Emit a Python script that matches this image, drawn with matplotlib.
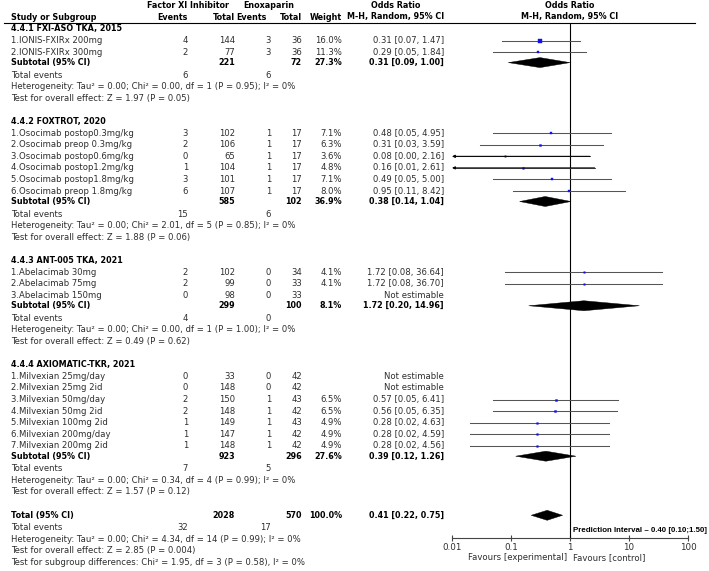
import matplotlib
matplotlib.use("Agg")
import matplotlib.pyplot as plt
from matplotlib.patches import Polygon
from matplotlib.ticker import NullLocator
from matplotlib import font_manager

# ---------------- data ----------------
group_titles = ["4.4.1 FXI-ASO TKA, 2015", "4.4.2 FOXTROT, 2020",
                "4.4.3 ANT-005 TKA, 2021", "4.4.4 AXIOMATIC-TKR, 2021"]
group_sizes = [2, 6, 3, 7]

study_names = ["1.IONIS-FXIRx 200mg", "2.IONIS-FXIRx 300mg",
               "1.Osocimab postop0.3mg/kg", "2.Osocimab preop 0.3mg/kg",
               "3.Osocimab postop0.6mg/kg", "4.Osocimab postop1.2mg/kg",
               "5.Osocimab postop1.8mg/kg", "6.Osocimab preop 1.8mg/kg",
               "1.Abelacimab 30mg", "2.Abelacimab 75mg", "3.Abelacimab 150mg",
               "1.Milvexian 25mg/day", "2.Milvexian 25mg 2id", "3.Milvexian 50mg/day",
               "4.Milvexian 50mg 2id", "5.Milvexian 100mg 2id", "6.Milvexian 200mg/day",
               "7.Milvexian 200mg 2id"]
exp_events = [4, 2, 3, 2, 0, 1, 3, 6, 2, 2, 0, 0, 0, 2, 2, 1, 1, 1]
exp_total = [144, 77, 102, 106, 65, 104, 101, 107, 102, 99, 98, 33, 148, 150, 148, 149, 147, 148]
ctl_events = [3, 3, 1, 1, 1, 1, 1, 1, 0, 0, 0, 0, 0, 1, 1, 1, 1, 1]
ctl_total = [36, 36, 17, 17, 17, 17, 17, 17, 34, 33, 33, 42, 42, 43, 42, 43, 42, 42]
weights = [16.0, 11.3, 7.1, 6.3, 3.6, 4.8, 7.1, 8.0, 4.1, 4.1, None, None, None, 6.5, 6.5, 4.9, 4.9, 4.9]
or_est = [0.31, 0.29, 0.48, 0.31, 0.08, 0.16, 0.49, 0.95, 1.72, 1.72, None, None, None, 0.57, 0.56, 0.28, 0.28, 0.28]
or_lo = [0.07, 0.05, 0.05, 0.03, 0.00, 0.01, 0.05, 0.11, 0.08, 0.08, None, None, None, 0.05, 0.05, 0.02, 0.02, 0.02]
or_hi = [1.47, 1.84, 4.95, 3.59, 2.16, 2.61, 5.00, 8.42, 36.64, 36.70, None, None, None, 6.41, 6.35, 4.63, 4.59, 4.56]

sub_exp_total = [221, 585, 299, 923]
sub_ctl_total = [72, 102, 100, 296]
sub_weight = [27.3, 36.9, 8.1, 27.6]
sub_or = [0.31, 0.38, 1.72, 0.39]
sub_lo = [0.09, 0.14, 0.20, 0.12]
sub_hi = [1.00, 1.04, 14.96, 1.26]
sub_exp_events = [6, 15, 4, 7]
sub_ctl_events = [6, 6, 0, 5]
het_tau2 = ["0.00", "0.00", "0.00", "0.00"]
het_chi2 = ["0.00", "2.01", "0.00", "0.34"]
het_df = [1, 5, 1, 4]
het_p = ["0.95", "0.85", "1.00", "0.99"]
het_i2 = [0, 0, 0, 0]
z_val = ["1.97", "1.88", "0.49", "1.57"]
z_p = ["0.05", "0.06", "0.62", "0.12"]

tot_exp_total, tot_ctl_total, tot_weight = 2028, 570, 100.0
tot_or, tot_lo, tot_hi = 0.41, 0.22, 0.75
tot_exp_events, tot_ctl_events = 32, 17
tot_het = ("0.00", "4.34", 14, "0.99", 0)
tot_z = ("2.85", "0.004")
subgroup_diff = ("1.95", 3, "0.58", 0)
pred_interval = ("0.40", "0.10", "1.50")

xticks = [0.01, 0.1, 1, 10, 100]
xtick_labels = ["0.01", "0.1", "1", "10", "100"]

# ---------------- layout ----------------
W, H = 709, 571
fig = plt.figure(figsize=(W / 100, H / 100), dpi=100)
ax = fig.add_axes([0, 0, 1, 1])
ax.set_xlim(0, W)
ax.set_ylim(H, 0)
ax.axis("off")

names = {f.name for f in font_manager.fontManager.ttflist}
FAM = "DejaVu Sans"
NARROW = "Liberation Sans Narrow" if "Liberation Sans Narrow" in names else "Liberation Sans"
FS = 6.1
FSB = 5.8
TC = "#2e2e2e"

X0, X1 = 452, 688
YTOP, YAX = 23, 538
fax = fig.add_axes([X0 / W, 1 - YAX / H, (X1 - X0) / W, (YAX - YTOP) / H])
fax.set_xscale("log")
fax.set_xlim(0.01, 100)
fax.set_ylim(YAX, YTOP)
fax.patch.set_alpha(0)
for s in ["top", "right", "left"]:
    fax.spines[s].set_visible(False)
fax.spines["bottom"].set_linewidth(0.8)
fax.spines["bottom"].set_color("#444444")
fax.set_xticks(xticks)
fax.set_xticklabels(xtick_labels, fontsize=FS + 0.2, color=TC, family=FAM)
fax.xaxis.set_minor_locator(NullLocator())
fax.set_yticks([])
fax.tick_params(axis="x", direction="inout", length=5, width=0.8, color="#444444", pad=1.2)
fax.axvline(1, color="black", lw=0.8)


def t(x, y, s, ha="left", bold=False, color=None, size=None):
    if size is None:
        size = FSB if bold else FS
    ax.text(x, y, s, ha=ha, va="center", fontsize=size, family=FAM,
            fontweight="bold" if bold else "normal",
            color=color if color else ("black" if bold else TC))


C_LBL, C_EE, C_ET, C_CE, C_CT, C_W, C_CI = 11, 188, 235, 271, 302, 342, 444

# headers
t(188, 6, "Factor XI Inhibitor", ha="center", bold=True)
t(269, 6, "Enoxaparin", ha="center", bold=True)
t(396, 6, "Odds Ratio", ha="center", bold=True)
t(570, 6, "Odds Ratio", ha="center", bold=True)
t(C_LBL, 17, "Study or Subgroup", bold=True)
t(C_EE, 17, "Events", ha="right", bold=True)
t(C_ET, 17, "Total", ha="right", bold=True)
t(267, 17, "Events", ha="right", bold=True)
t(C_CT, 17, "Total", ha="right", bold=True)
t(C_W, 17, "Weight", ha="right", bold=True)
t(396, 17, "M-H, Random, 95% CI", ha="center", bold=True)
t(570, 17, "M-H, Random, 95% CI", ha="center", bold=True)
ax.plot([4, 695], [YTOP, YTOP], color="black", lw=0.8)

CI_COLOR = "#555555"


def diamond(y, est, lo, hi):
    fax.add_patch(Polygon([(lo, y), (est, y - 5), (hi, y), (est, y + 5)],
                          closed=True, facecolor="black", edgecolor="black", lw=0.3))


dy = 11.55
y = 29.0
k = 0
for g in range(len(group_titles)):
    t(C_LBL, y, group_titles[g], bold=True)
    for _ in range(group_sizes[g]):
        y += dy
        t(C_LBL, y, study_names[k])
        t(C_EE, y, str(exp_events[k]), ha="right")
        t(C_ET, y, str(exp_total[k]), ha="right")
        t(C_CE, y, str(ctl_events[k]), ha="right")
        t(C_CT, y, str(ctl_total[k]), ha="right")
        if weights[k] is None:
            t(C_CI, y, "Not estimable", ha="right")
        else:
            t(C_W, y, f"{weights[k]:.1f}%", ha="right")
            t(C_CI, y, f"{or_est[k]:.2f} [{or_lo[k]:.2f}, {or_hi[k]:.2f}]", ha="right")
            lo = max(or_lo[k], 0.01)
            if or_lo[k] <= 0.01:
                fax.annotate("", xy=(0.01, y), xytext=(or_hi[k], y),
                             arrowprops=dict(arrowstyle="-|>", color="black", lw=0.75,
                                             mutation_scale=4.0, shrinkA=0, shrinkB=0),
                             annotation_clip=False)
                fax.plot([0.0115, or_hi[k]], [y, y], color=CI_COLOR, lw=0.75)
            else:
                fax.plot([lo, or_hi[k]], [y, y], color=CI_COLOR, lw=0.75)
            fax.plot([or_est[k]], [y], marker="s", color="#1010ee", mec="#1010ee",
                     markersize=0.55 * weights[k] ** 0.5, mew=0.3)
        k += 1
    y += 10.5
    t(C_LBL, y, "Subtotal (95% CI)", bold=True)
    t(C_ET, y, str(sub_exp_total[g]), ha="right", bold=True)
    t(C_CT, y, str(sub_ctl_total[g]), ha="right", bold=True)
    t(C_W, y, f"{sub_weight[g]:.1f}%", ha="right", bold=True)
    t(C_CI, y, f"{sub_or[g]:.2f} [{sub_lo[g]:.2f}, {sub_hi[g]:.2f}]", ha="right", bold=True)
    diamond(y, sub_or[g], sub_lo[g], sub_hi[g])
    y += 12.5
    t(C_LBL, y, "Total events")
    t(C_EE, y, str(sub_exp_events[g]), ha="right")
    t(C_CE, y, str(sub_ctl_events[g]), ha="right")
    y += dy
    t(C_LBL, y, f"Heterogeneity: Tau² = {het_tau2[g]}; Chi² = {het_chi2[g]}, df = {het_df[g]} "
                f"(P = {het_p[g]}); I² = {het_i2[g]}%")
    y += dy
    t(C_LBL, y, f"Test for overall effect: Z = {z_val[g]} (P = {z_p[g]})")
    y += 23.5

# overall
t(C_LBL, y, "Total (95% CI)", bold=True)
t(C_ET, y, str(tot_exp_total), ha="right", bold=True)
t(C_CT, y, str(tot_ctl_total), ha="right", bold=True)
t(C_W, y, f"{tot_weight:.1f}%", ha="right", bold=True)
t(C_CI, y, f"{tot_or:.2f} [{tot_lo:.2f}, {tot_hi:.2f}]", ha="right", bold=True)
diamond(y, tot_or, tot_lo, tot_hi)
y += 12.5
t(C_LBL, y, "Total events")
t(C_EE, y, str(tot_exp_events), ha="right")
t(C_CE, y, str(tot_ctl_events), ha="right")
y += dy
t(C_LBL, y, f"Heterogeneity: Tau² = {tot_het[0]}; Chi² = {tot_het[1]}, df = {tot_het[2]} "
            f"(P = {tot_het[3]}); I² = {tot_het[4]}%")
y += dy
t(C_LBL, y, f"Test for overall effect: Z = {tot_z[0]} (P = {tot_z[1]})")
y += dy
t(C_LBL, y, f"Test for subgroup differences: Chi² = {subgroup_diff[0]}, df = {subgroup_diff[1]} "
            f"(P = {subgroup_diff[2]}), I² = {subgroup_diff[3]}%")

# prediction interval
ax.text(707, 530, f"Prediction Interval – {pred_interval[0]} [{pred_interval[1]};{pred_interval[2]}]",
        ha="right", va="center", fontsize=5.7, family=NARROW, fontweight="bold", color="black")

# favours
t(567, 558, "Favours [experimental]", ha="right")
t(573, 558, "Favours [control]", ha="left")

fig.savefig("out.png", dpi=100)
